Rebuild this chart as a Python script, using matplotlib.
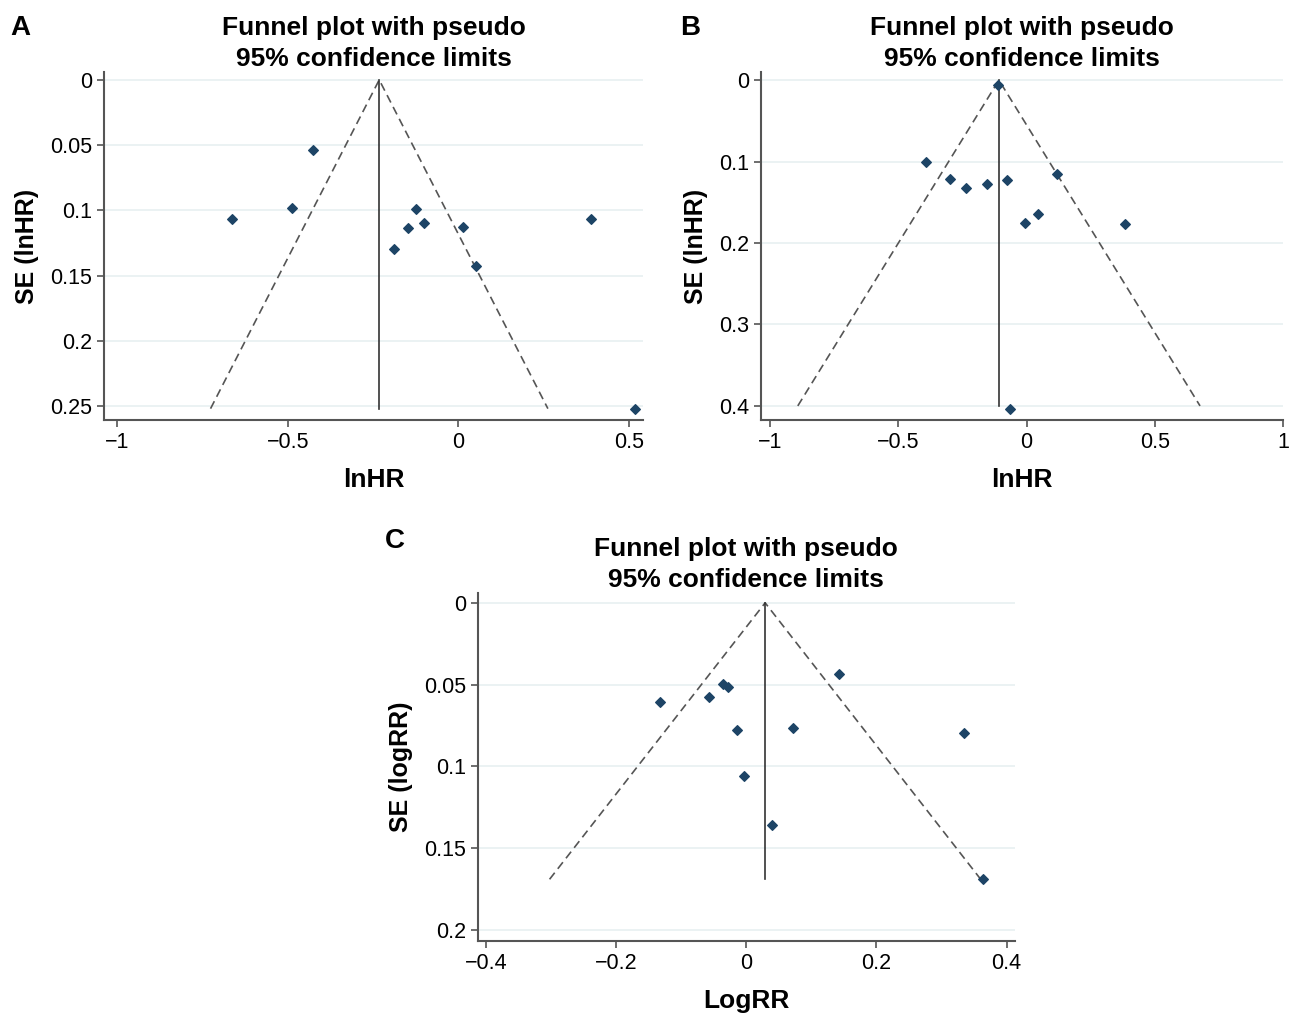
import numpy as np
import matplotlib.pyplot as plt

plt.rcParams['font.family'] = ['Liberation Sans', 'DejaVu Sans']

# panel A: lnHR vs SE
a_x = [-0.663, -0.487, -0.425, -0.123, -0.147, -0.100, -0.188, 0.012, 0.050, 0.387, 0.516]
a_se = [0.1065, 0.098, 0.0536, 0.0989, 0.1134, 0.110, 0.1295, 0.113, 0.143, 0.1065, 0.252]
a_pooled = -0.232

# panel B
b_x = [-0.112, -0.394, -0.297, -0.236, -0.154, -0.077, 0.120, -0.008, 0.046, 0.382, -0.066]
b_se = [0.006, 0.101, 0.121, 0.133, 0.127, 0.123, 0.115, 0.176, 0.164, 0.177, 0.404]
b_pooled = -0.108

# panel C: logRR vs SE
c_x = [-0.132, -0.057, -0.035, -0.028, -0.014, -0.003, 0.040, 0.072, 0.143, 0.335, 0.363]
c_se = [0.0606, 0.0575, 0.0495, 0.0514, 0.078, 0.106, 0.136, 0.0765, 0.0434, 0.0795, 0.169]
c_pooled = 0.029

a_xticks = [-1, -0.5, 0, 0.5]
a_yticks = [0, 0.05, 0.1, 0.15, 0.2, 0.25]
b_xticks = [-1, -0.5, 0, 0.5, 1]
b_yticks = [0, 0.1, 0.2, 0.3, 0.4]
c_xticks = [-0.4, -0.2, 0, 0.2, 0.4]
c_yticks = [0, 0.05, 0.1, 0.15, 0.2]

title = "Funnel plot with pseudo\n95% confidence limits"
mcol = '#1d4466'


def fmt(v):
    s = '%g' % v
    return s.replace('-', '\u2212')


def funnel(ax, x, se, pooled, xticks, yticks, xlim, ylim, xlabel, ylabel, se_max=None):
    if se_max is None:
        se_max = max(se)
    for t in yticks:
        ax.axhline(t, color='#e8f0f1', lw=1.2, zorder=0)
    ax.plot([pooled - 1.96 * se_max, pooled, pooled + 1.96 * se_max],
            [se_max, 0, se_max], ls=(0, (5, 3)), color='#555555', lw=1.2)
    ax.plot([pooled, pooled], [0, se_max], color='#333333', lw=1.2)
    ax.scatter(x, se, marker='D', s=24, color=mcol, zorder=3, clip_on=False)
    ax.set_xlim(*xlim)
    ax.set_ylim(*ylim)
    ax.set_xticks(xticks)
    ax.set_xticklabels([fmt(v) for v in xticks])
    ax.set_yticks(yticks)
    ax.set_yticklabels([fmt(v) for v in yticks])
    for s in ['top', 'right']:
        ax.spines[s].set_visible(False)
    for s in ['left', 'bottom']:
        ax.spines[s].set_color('#555555')
        ax.spines[s].set_linewidth(1.5)
    ax.tick_params(labelsize=15.5, length=5, width=1.2, color='#555555')
    ax.set_xlabel(xlabel, fontsize=19, fontweight='bold', labelpad=11)
    ax.set_ylabel(ylabel, fontsize=18, fontweight='bold', labelpad=8)
    ax.set_title(title, fontsize=19, fontweight='bold', linespacing=1.4, pad=4)


fig = plt.figure(figsize=(12.9, 10.13), dpi=100)

ax1 = fig.add_axes([0.0806, 0.5854, 0.418, 0.3435])
funnel(ax1, a_x, a_se, a_pooled, a_xticks, a_yticks, (-1.038, 0.541), (0.2607, -0.006),
       'lnHR', 'SE (lnHR)')

ax2 = fig.add_axes([0.590, 0.5854, 0.4047, 0.3435])
funnel(ax2, b_x, b_se, b_pooled, b_xticks, b_yticks, (-1.035, 1.0), (0.4173, -0.010),
       'lnHR', 'SE (lnHR)', se_max=0.40)

ax3 = fig.add_axes([0.3705, 0.0711, 0.416, 0.3435])
funnel(ax3, c_x, c_se, c_pooled, c_xticks, c_yticks, (-0.4123, 0.4123), (0.2067, -0.006),
       'LogRR', 'SE (logRR)')

fig.text(0.008, 0.965, 'A', fontsize=20, fontweight='bold')
fig.text(0.527, 0.965, 'B', fontsize=20, fontweight='bold')
fig.text(0.298, 0.459, 'C', fontsize=20, fontweight='bold')

fig.savefig('out.png', dpi=100)
